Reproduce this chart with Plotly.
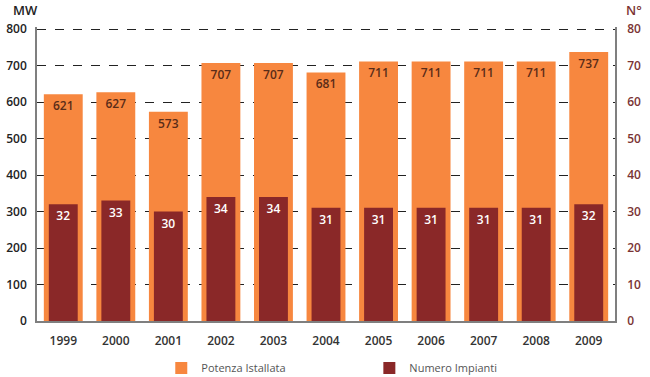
import plotly.graph_objects as go

anni = ["1999", "2000", "2001", "2002", "2003", "2004", "2005", "2006", "2007", "2008", "2009"]
potenza_mw = [621, 627, 573, 707, 707, 681, 711, 711, 711, 711, 737]
numero_impianti = [32, 33, 30, 34, 34, 31, 31, 31, 31, 31, 32]

fig = go.Figure()
fig.add_trace(go.Bar(
    x=anni, y=potenza_mw, name="Potenza Istallata",
    width=0.74,
    marker=dict(color="#f7873f", line=dict(width=0)),
    text=[str(v) for v in potenza_mw], textposition="inside", insidetextanchor="end",
    textfont=dict(color="#5a2c18", size=12, family="Open Sans", weight=600),
    yaxis="y", legend="legend",
))
fig.add_trace(go.Bar(
    x=anni, y=numero_impianti, name="Numero Impianti",
    width=0.55,
    marker=dict(color="#8a2828", line=dict(width=0)),
    text=[str(v) for v in numero_impianti], textposition="inside", insidetextanchor="end",
    textfont=dict(color="white", size=12, family="Open Sans", weight=600),
    yaxis="y2", legend="legend2",
))

leg_common = dict(orientation="h", yanchor="middle", y=-0.16, xanchor="left",
                  font=dict(size=11, color="#555"), bgcolor="rgba(0,0,0,0)")

fig.update_layout(
    width=650, height=377,
    margin=dict(l=37, r=35, t=27, b=56, autoexpand=False),
    barmode="overlay",
    plot_bgcolor="white", paper_bgcolor="white",
    font=dict(family="Open Sans", size=12, color="#222"),
    xaxis=dict(showline=True, linecolor="#7f7f7f", linewidth=1.5, ticks="",
               tickfont=dict(size=12, color="#333", weight=600), showgrid=False,
               ticklabelstandoff=8),
    yaxis=dict(range=[0, 805.5], tickvals=[0, 100, 200, 300, 400, 500, 600, 700, 800],
               showline=True, linecolor="#7f7f7f", linewidth=1.5,
               gridcolor="#222", griddash="dash", gridwidth=1, zeroline=False,
               tickfont=dict(size=12, color="#222", weight=600), ticks="",
               ticklabelstandoff=6),
    yaxis2=dict(range=[0, 80.55], tickvals=[0, 10, 20, 30, 40, 50, 60, 70, 80],
                overlaying="y", side="right", showgrid=False,
                showline=True, linecolor="#7f7f7f", linewidth=1.5, zeroline=False,
                tickfont=dict(size=12, color="#7a3434", weight=600), ticks="",
                ticklabelstandoff=8),
    legend=dict(x=0.215, **leg_common),
    legend2=dict(x=0.575, **leg_common),
    showlegend=True,
    annotations=[
        dict(text="MW", xref="paper", yref="paper", x=-0.045, y=1.0, yshift=17, xanchor="left",
             yanchor="middle", showarrow=False, font=dict(size=13, color="#222", weight=600)),
        dict(text="N°", xref="paper", yref="paper", x=1.015, y=1.0, yshift=17, xanchor="left",
             yanchor="middle", showarrow=False, font=dict(size=13, color="#7a3434", weight=600)),
    ],
)

fig.write_html("out.html", config={"displayModeBar": False},
               post_script="document.body.style.margin='0';document.body.style.overflow='hidden';")
